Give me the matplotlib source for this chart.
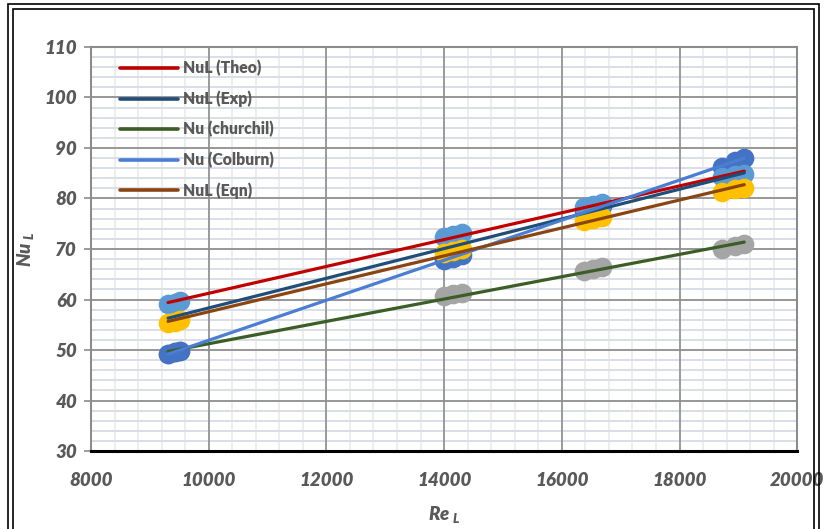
import numpy as np
import matplotlib
matplotlib.use('Agg')
import matplotlib.pyplot as plt
from matplotlib.ticker import MultipleLocator
from matplotlib.lines import Line2D

plt.rcParams['font.family'] = ['Lato', 'DejaVu Sans']
plt.rcParams['mathtext.default'] = 'regular'

# Reynolds numbers of the test runs (four flow rates, three readings each)
re_l = [9310, 9420, 9520, 14000, 14150, 14300,
        16380, 16530, 16680, 18720, 18950, 19100]

# Nusselt numbers for each correlation
nu_theo = [59.1, 59.4, 59.7, 72.3, 72.7, 73.1,
           78.4, 78.8, 79.2, 84.2, 84.6, 84.9]
nu_exp = [56.2, 56.6, 57.0, 70.1, 70.5, 70.9,
          77.2, 77.6, 78.0, 84.0, 84.5, 85.0]
nu_churchill = [49.3, 49.6, 49.9, 60.6, 61.0, 61.3,
                65.6, 66.0, 66.4, 70.0, 70.5, 70.9]
nu_colburn = [49.3, 49.6, 49.9, 67.8, 68.3, 68.8,
              77.5, 78.0, 78.5, 86.2, 87.4, 88.0]
nu_eqn = [55.3, 55.6, 55.9, 69.2, 69.6, 70.0,
          75.6, 76.0, 76.3, 81.3, 81.8, 82.1]

labels = ['NuL (Theo)', 'NuL (Exp)', 'Nu (churchil)', 'Nu (Colburn)', 'NuL (Eqn)']
series = [nu_theo, nu_exp, nu_churchill, nu_colburn, nu_eqn]
line_colors = ['#C00000', '#1F4E79', '#3A5E25', '#4A7ED2', '#8B4513']
# point colours (None = no markers for that series)
marker_colors = ['#5B9BD5', None, '#A5A5A5', '#4472C4', '#FFC000']
marker_order = [2, 3, 0, 4]

fig = plt.figure(figsize=(8.27, 5.29), dpi=100)
ax = fig.add_axes([0.110, 0.1474, 0.854, 0.7638])

x = np.array(re_l, dtype=float)

# markers first, lines drawn over them
for i in marker_order:
    ax.scatter(x, series[i], s=160, color=marker_colors[i],
               edgecolors=marker_colors[i], linewidths=1.5, zorder=3)

handles = []
for y, lab, col in zip(series, labels, line_colors):
    z = np.polyfit(x, y, 1)
    p = np.poly1d(z)
    xx = np.array([x.min(), x.max()])
    ax.plot(xx, p(xx), color=col, lw=2.3, solid_capstyle='round', zorder=4)
    handles.append(Line2D([0], [0], color=col, lw=2.6, solid_capstyle='round'))

ax.set_xlim(8000, 20000)
ax.set_ylim(30, 110)
ax.xaxis.set_major_locator(MultipleLocator(2000))
ax.yaxis.set_major_locator(MultipleLocator(10))

# minor grid kept below the major grid
for xv in MultipleLocator(400).tick_values(8000, 20000):
    ax.axvline(xv, color='#EDEDED', lw=1.4, zorder=0.2)
for yv in MultipleLocator(2).tick_values(30, 110):
    ax.axhline(yv, color='#D9DEE7', lw=1.4, zorder=0.3)
ax.grid(which='major', color='#8C8C8C', lw=1.2)
ax.set_axisbelow(True)

for side in ['top', 'right', 'left']:
    ax.spines[side].set_color('#8C8C8C')
    ax.spines[side].set_linewidth(1.5)
ax.spines['bottom'].set_color('black')
ax.spines['bottom'].set_linewidth(2.2)

tick_font = dict(fontsize=13.5, fontweight='heavy', fontstyle='italic', color='#595959')
ax.tick_params(axis='y', which='major', length=5, width=1.2, color='#8C8C8C', pad=5)
ax.tick_params(axis='x', which='both', length=0, pad=15)
for lab in ax.get_xticklabels() + ax.get_yticklabels():
    lab.set(**tick_font)

ax.set_xlabel('Re $_{L}$', fontsize=13.5, fontweight='heavy', fontstyle='italic',
              color='#595959', labelpad=11)
ax.set_ylabel('Nu $_{L}$', fontsize=13.5, fontweight='heavy', fontstyle='italic',
              color='#595959', labelpad=6)

ax.legend(handles, labels, loc='upper left', bbox_to_anchor=(0.025, 0.995),
          frameon=False, handlelength=3.7, handletextpad=0.35,
          labelspacing=0.9, borderpad=0.2,
          prop=dict(size=11.3, weight='heavy'), labelcolor='#595959')

# double outline around the chart area
for off in (8, 13):
    fig.patches.append(plt.Rectangle((off / 827, -0.05), 1 - 2 * off / 827,
                                     1.05 - (off - 4) / 529, transform=fig.transFigure,
                                     fill=False, edgecolor='black', lw=1.2))

fig.savefig('out.png', dpi=100)
